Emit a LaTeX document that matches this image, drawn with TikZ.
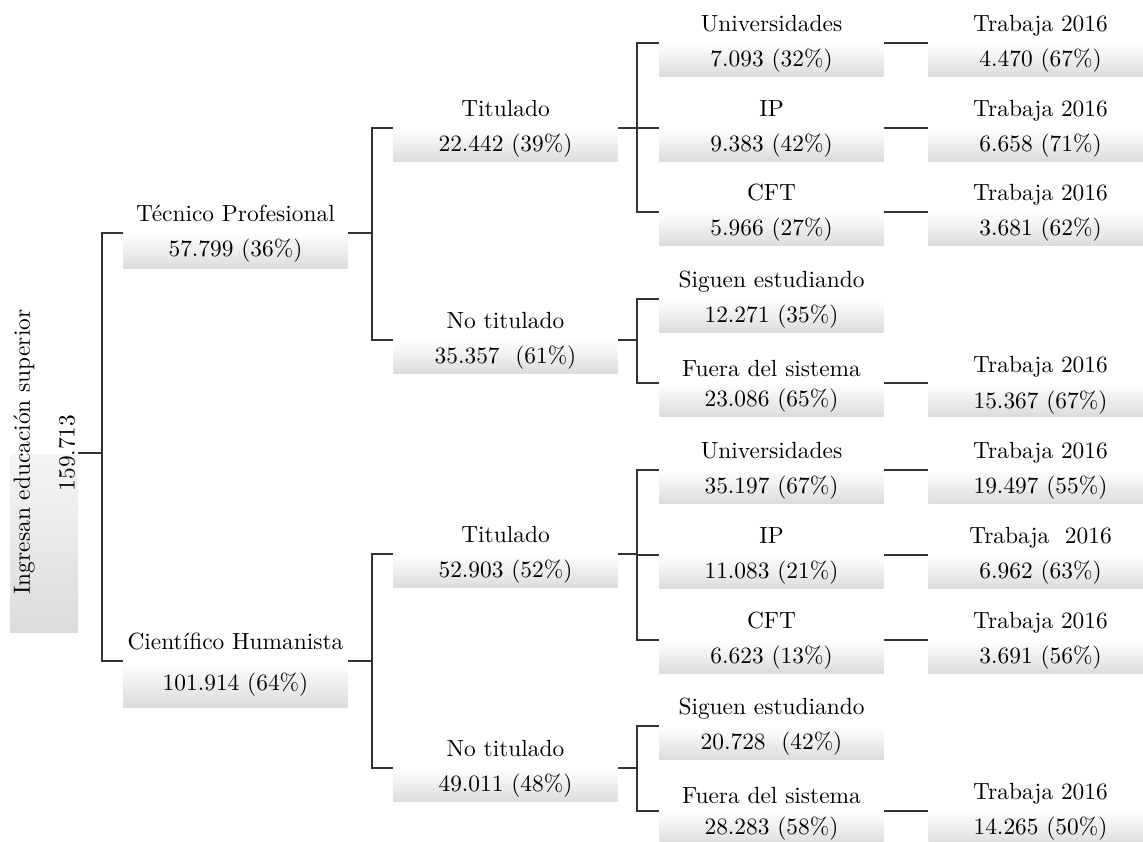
\documentclass[tikz,border=0pt]{standalone}
\usepackage{fontspec}
\usepackage{tikz}
\usetikzlibrary{positioning}
\usetikzlibrary{shadings}

\begin{document}
\begin{tikzpicture}[x=0.4275pt,y=-0.4275pt,
		box/.style={anchor=north west, minimum width=95.8pt, minimum height=14.3pt, inner sep=0pt, top color=white, bottom color=black!14},
		lbl/.style={anchor=base, inner sep=0pt},
		conn/.style={line width=0.5pt, black!80}]
		\useasboundingbox (0,0) rectangle (1143,842);

		% Root
		\shade[top color=black!4, bottom color=black!14] (10,455) rectangle (78,632);
		\node[rotate=90, inner sep=1pt] (root) at (67,453) {159.713};
		\node[rotate=90, inner sep=0pt] (rootlbl) at (24,452) {Ingresan educación superior};

		% Level 1
		\node[box, minimum height=15pt] (tp) at (123,233) {57.799 (36\%)};
		\node[above=5pt of tp, lbl] (tpl) {Técnico Profesional};
		\node[box, minimum height=19.7pt] (ch) at (123,661) {101.914 (64\%)};
		\node[above=5pt of ch, lbl] (chl) {Científico Humanista};

		% Level 2
		\node[box] (tpt) at (393,128) {22.442 (39\%)};
		\node[above=5pt of tpt, lbl] (tptl) {Titulado};
		\node[box] (tpn) at (393,340) {35.357~ (61\%)};
		\node[above=5pt of tpn, lbl] (tpnl) {No titulado};
		\node[box] (cht) at (393,554) {52.903 (52\%)};
		\node[above=5pt of cht, lbl] (chtl) {Titulado};
		\node[box] (chn) at (393,768) {49.011 (48\%)};
		\node[above=5pt of chn, lbl] (chnl) {No titulado};

		% Level 3 (Tecnico Profesional)
		\node[box] (tpu) at (659,43) {7.093 (32\%)};
		\node[above=5pt of tpu, lbl] (tpul) {Universidades};
		\node[box] (tpi) at (659,128) {9.383 (42\%)};
		\node[above=5pt of tpi, lbl] (tpil) {IP};
		\node[box] (tpc) at (659,212) {5.966 (27\%)};
		\node[above=5pt of tpc, lbl] (tpcl) {CFT};
		\node[box] (tps) at (659,299) {12.271 (35\%)};
		\node[above=5pt of tps, lbl] (tpsl) {Siguen estudiando};
		\node[box] (tpf) at (659,383) {23.086 (65\%)};
		\node[above=2.6pt of tpf, lbl] (tpfl) {Fuera del sistema};

		% Level 3 (Cientifico Humanista)
		\node[box] (chu) at (659,470) {35.197 (67\%)};
		\node[above=5pt of chu, lbl] (chul) {Universidades};
		\node[box] (chi) at (659,555) {11.083 (21\%)};
		\node[above=5pt of chi, lbl] (chil) {IP};
		\node[box] (chc) at (659,640) {6.623 (13\%)};
		\node[above=5pt of chc, lbl] (chcl) {CFT};
		\node[box] (chs) at (659,726) {20.728~ (42\%)};
		\node[above=5pt of chs, lbl] (chsl) {Siguen estudiando};
		\node[box] (chf) at (659,811) {28.283 (58\%)};
		\node[above=3.4pt of chf, lbl] (chfl) {Fuera del sistema};

		% Level 4
		\node[box] (tpu2) at (928,43) {4.470 (67\%)};
		\node[above=5pt of tpu2, lbl] (tpu2l) {Trabaja 2016};
		\node[box] (tpi2) at (928,128) {6.658 (71\%)};
		\node[above=5pt of tpi2, lbl] (tpi2l) {Trabaja 2016};
		\node[box] (tpc2) at (928,212) {3.681 (62\%)};
		\node[above=5pt of tpc2, lbl] (tpc2l) {Trabaja 2016};
		\node[box, text depth=-1pt] (tpf2) at (928,383) {15.367 (67\%)};
		\node[above=4.3pt of tpf2, lbl] (tpf2l) {Trabaja 2016};
		\node[box] (chu2) at (928,470) {19.497 (55\%)};
		\node[above=5pt of chu2, lbl] (chu2l) {Trabaja 2016};
		\node[box] (chi2) at (928,555) {6.962 (63\%)};
		\node[above=5pt of chi2, lbl] (chi2l) {Trabaja~ 2016};
		\node[box] (chc2) at (928,640) {3.691 (56\%)};
		\node[above=5pt of chc2, lbl] (chc2l) {Trabaja 2016};
		\node[box] (chf2) at (928,811) {14.265 (50\%)};
		\node[above=5pt of chf2, lbl] (chf2l) {Trabaja 2016};

		% Connectors
		\draw[conn] (tp.north west) -- ++(-21,0) |- (root.south);
		\draw[conn] (ch.north west) -- ++(-21,0) |- (root.south);
		\draw[conn] (tp.north east) -- ++(24,0) |- (tpt.north west);
		\draw[conn] (tp.north east) -- ++(24,0) |- (tpn.north west);
		\draw[conn] (ch.north east) -- ++(24,0) |- (cht.north west);
		\draw[conn] (ch.north east) -- ++(24,0) |- (chn.north west);
		\foreach \a/\b in {tpt/tpu, tpt/tpi, tpt/tpc, tpn/tps, tpn/tpf, cht/chu, cht/chi, cht/chc, chn/chs, chn/chf}
			\draw[conn] (\a.north east) -- ++(19,0) |- (\b.north west);
		\foreach \a in {tpu, tpi, tpc, tpf, chu, chi, chc, chf}
			\draw[conn] (\a.north east) -- (\a2.north west);
	\end{tikzpicture}
\end{document}
